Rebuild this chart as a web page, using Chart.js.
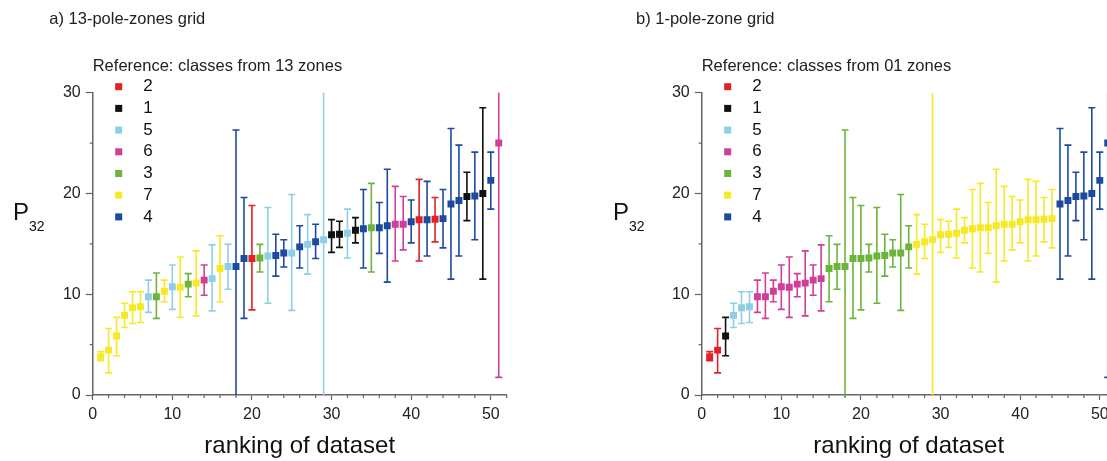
<!DOCTYPE html>
<html>
<head>
<meta charset="utf-8">
<script src="https://cdn.jsdelivr.net/npm/chart.js@4.4.1/dist/chart.umd.min.js"></script>
<style>
html, body { margin: 0; padding: 0; background: #fff; overflow: hidden; width: 1107px; height: 461px; }
.panel { position: absolute; top: 0; width: 553px; height: 461px; }
#panelA { left: 0; }
#panelB { left: 609px; }
</style>
</head>
<body>
<div class="panel" id="panelA"><canvas id="chartA" width="553" height="461"></canvas></div>
<div class="panel" id="panelB"><canvas id="chartB" width="553" height="461"></canvas></div>
<script>
// P32 of each dataset, ordered by rank 1..51, with lower / upper error limits
var p32 = [3.8, 4.45, 5.85, 7.9, 8.65, 8.75, 9.75, 9.75, 10.3, 10.75,
    10.7, 11.0, 11.1, 11.4, 11.55, 12.55, 12.75, 12.75, 13.55, 13.55,
    13.6, 13.8, 13.85, 14.1, 14.1, 14.7, 14.95, 15.2, 15.4, 15.9,
    15.95, 16.05, 16.35, 16.5, 16.6, 16.6, 16.8, 16.95, 16.95, 17.2,
    17.4, 17.4, 17.45, 17.5, 18.95, 19.3, 19.7, 19.75, 20.0, 21.3, 25.0];
var p32Low = [3.4, 2.2, 3.9, 6.7, 7.1, 7.2, 8.2, 7.6, 9.25, 8.5,
    7.7, 9.75, 7.85, 9.9, 8.35, 9.25, 10.5, -1.0, 7.6, 8.45,
    12.2, 9.1, 11.8, 12.7, 8.4, 12.6, 12.0, 13.55, -1.5, 14.15,
    14.65, 13.6, 15.1, 12.6, 12.2, 14.05, 11.2, 13.3, 14.4, 15.1,
    13.3, 13.8, 15.2, 14.6, 11.5, 13.8, 17.3, 15.4, 11.5, 18.45, 1.75];
var p32High = [4.3, 6.6, 7.7, 9.1, 10.25, 10.25, 11.4, 12.1, 11.4, 12.9,
    13.7, 12.05, 14.3, 12.9, 14.9, 15.8, 14.95, 26.3, 19.6, 18.8,
    14.95, 18.6, 15.95, 15.4, 19.9, 16.8, 17.9, 16.95, 31.5, 17.4,
    17.25, 18.45, 17.6, 20.4, 21.0, 19.1, 22.4, 20.7, 19.7, 19.35,
    21.4, 21.2, 19.6, 20.4, 26.45, 24.8, 22.1, 24.1, 28.5, 24.1, 31.0];

// reference class of each ranked dataset
var classesA = ['7', '7', '7', '7', '7', '7', '5', '3', '7', '5',
    '7', '3', '7', '6', '5', '7', '5', '4', '4', '2',
    '3', '5', '4', '4', '5', '4', '5', '4', '5', '1',
    '1', '5', '1', '4', '3', '4', '4', '6', '6', '4',
    '2', '4', '2', '4', '4', '4', '1', '4', '1', '4', '6'];
var classesB = ['2', '2', '1', '5', '5', '5', '6', '6', '6', '6',
    '6', '6', '6', '6', '6', '3', '3', '3', '3', '3',
    '3', '3', '3', '3', '3', '3', '7', '7', '7', '7',
    '7', '7', '7', '7', '7', '7', '7', '7', '7', '7',
    '7', '7', '7', '7', '4', '4', '4', '4', '4', '4', '4'];

var classNames = ['2', '1', '5', '6', '3', '7', '4'];
var classColors = ['#e3202a', '#111111', '#8fcfe6', '#cf3f98', '#6db43c', '#f7e926', '#1c4a9e'];

var fontFamily = '"Liberation Sans", Arial, sans-serif';
var axisColor = '#666666';

function classDatasets(classes) {
    return classNames.map(function (name, c) {
        var pts = [];
        classes.forEach(function (cl, i) {
            if (cl === name) pts.push({ x: i + 1, y: p32[i] });
        });
        return {
            label: name,
            data: pts,
            backgroundColor: classColors[c],
            borderColor: classColors[c],
            borderWidth: 0,
            pointStyle: 'rect',
            pointRadius: 4.9,
            pointHoverRadius: 4.9,
        };
    });
}

// error bars, minor ticks, titles, legend and the P32 label
function panelPlugin(panel) {
    return {
        id: 'panelDecor',
        beforeDatasetsDraw: function (chart) {
            var ctx = chart.ctx, xs = chart.scales.x, ys = chart.scales.y, area = chart.chartArea;
            ctx.save();
            ctx.beginPath();
            ctx.rect(area.left, area.top, area.right - area.left, area.bottom - area.top);
            ctx.clip();
            ctx.lineWidth = 1.6;
            p32.forEach(function (v, i) {
                var px = xs.getPixelForValue(i + 1);
                var lo = ys.getPixelForValue(p32Low[i]);
                var hi = ys.getPixelForValue(p32High[i]);
                ctx.strokeStyle = classColors[classNames.indexOf(panel.classes[i])];
                ctx.beginPath();
                ctx.moveTo(px, lo); ctx.lineTo(px, hi);
                ctx.moveTo(px - 3.5, lo); ctx.lineTo(px + 3.5, lo);
                ctx.moveTo(px - 3.5, hi); ctx.lineTo(px + 3.5, hi);
                ctx.stroke();
            });
            ctx.restore();
        },
        afterDraw: function (chart) {
            var ctx = chart.ctx, xs = chart.scales.x, ys = chart.scales.y, area = chart.chartArea;
            ctx.save();

            // minor ticks
            ctx.strokeStyle = axisColor;
            ctx.lineWidth = 1.2;
            ctx.beginPath();
            for (var t = 2; t <= 52; t += 2) {
                if (t % 10 === 0) continue;
                var x = xs.getPixelForValue(t);
                ctx.moveTo(x, area.bottom);
                ctx.lineTo(x, area.bottom + 3);
            }
            for (var s = 5; s < 30; s += 10) {
                var y = ys.getPixelForValue(s);
                ctx.moveTo(area.left, y);
                ctx.lineTo(area.left - 3, y);
            }
            ctx.stroke();

            // panel title and legend header
            ctx.fillStyle = '#222';
            ctx.textAlign = 'left';
            ctx.textBaseline = 'alphabetic';
            ctx.font = '16.5px ' + fontFamily;
            ctx.fillText(panel.title, panel.titleX, 23.5);
            ctx.fillText(panel.legendTitle, area.left, 71);

            // legend entries
            ctx.textBaseline = 'middle';
            ctx.font = '17px ' + fontFamily;
            classNames.forEach(function (name, c) {
                var ly = 86.7 + c * 21.7;
                ctx.fillStyle = classColors[c];
                ctx.fillRect(area.left + 22.5, ly - 3.5, 7, 7);
                ctx.fillStyle = '#111';
                ctx.fillText(name, area.left + 50.6, ly);
            });

            // y axis label P32
            ctx.textBaseline = 'alphabetic';
            ctx.fillStyle = '#111';
            ctx.font = '24px ' + fontFamily;
            ctx.fillText('P', panel.pX, 220);
            ctx.font = '14px ' + fontFamily;
            ctx.fillText('32', panel.pX + 16, 231);
            ctx.restore();
        }
    };
}

function panelConfig(panel) {
    return {
        type: 'scatter',
        data: { datasets: classDatasets(panel.classes) },
        options: {
            responsive: false,
            animation: false,
            events: [],
            layout: { padding: { top: 92.7, right: 46.3, bottom: 0, left: 0 } },
            plugins: {
                legend: { display: false },
                tooltip: { enabled: false },
            },
            scales: {
                x: {
                    type: 'linear',
                    min: 0,
                    max: 52,
                    afterFit: function (scale) { scale.height = 66; },
                    grid: { drawOnChartArea: false, tickLength: 5, color: axisColor, tickWidth: 1.2 },
                    border: { color: axisColor, width: 1.5 },
                    ticks: {
                        stepSize: 10, includeBounds: false, autoSkip: false, maxRotation: 0,
                        padding: 5, color: '#222', font: { size: 16, family: fontFamily },
                    },
                    title: {
                        display: true, text: 'ranking of dataset', color: '#111', padding: 0,
                        font: { size: 24, family: fontFamily },
                    },
                },
                y: {
                    min: 0,
                    max: 30,
                    afterFit: function (scale) { scale.width = 92.7; },
                    grid: { drawOnChartArea: false, tickLength: 7, color: axisColor, tickWidth: 1.2 },
                    border: { color: axisColor, width: 1.5 },
                    ticks: {
                        stepSize: 10, includeBounds: false, padding: 5,
                        color: '#222', font: { size: 16, family: fontFamily },
                    },
                },
            },
        },
        plugins: [panelPlugin(panel)],
    };
}

const chartA = new Chart(
    document.getElementById('chartA'),
    panelConfig({ title: 'a) 13-pole-zones grid', legendTitle: 'Reference: classes from 13 zones', classes: classesA, titleX: 49.3, pX: 13 })
);

const chartB = new Chart(
    document.getElementById('chartB'),
    panelConfig({ title: 'b) 1-pole-zone grid', legendTitle: 'Reference: classes from 01 zones', classes: classesB, titleX: 27, pX: 4 })
);
</script>
</body>
</html>
